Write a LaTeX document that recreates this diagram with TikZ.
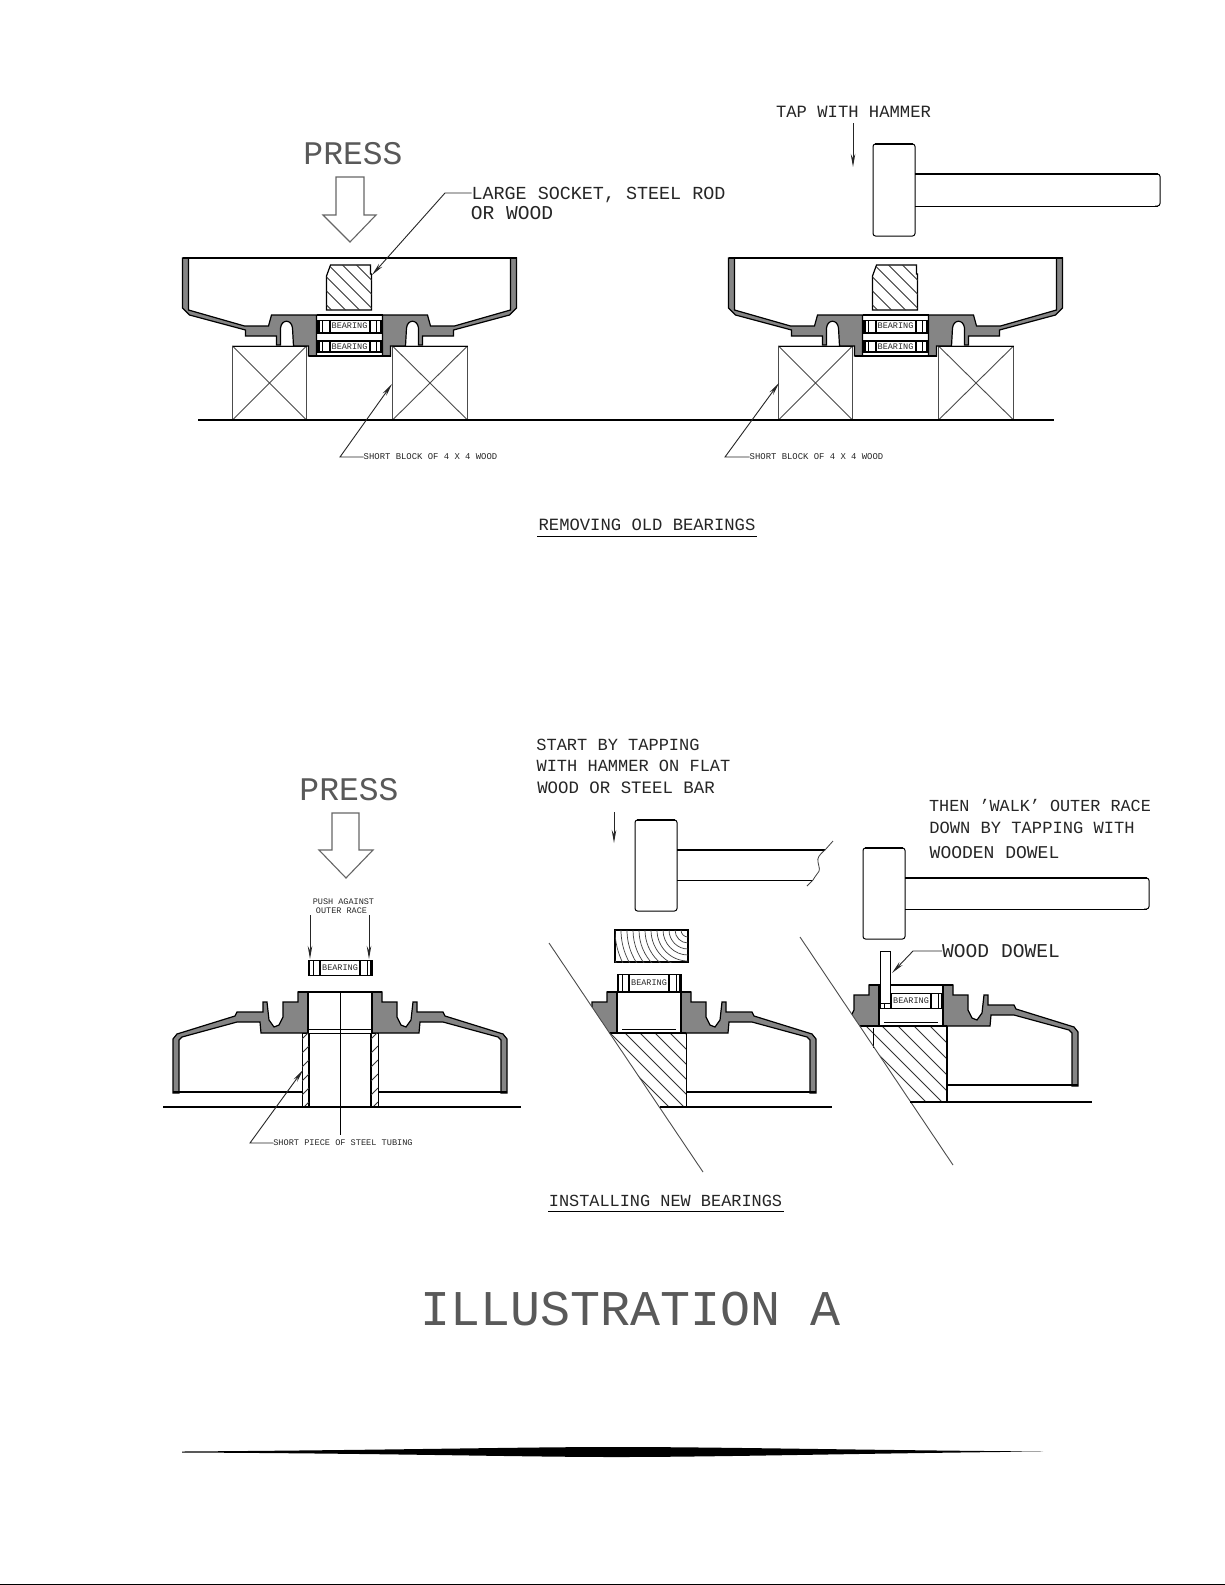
\documentclass[tikz,border=0pt]{standalone}
\usepackage{fontspec}
\setmainfont{Liberation Mono}
\usetikzlibrary{arrows.meta}
\tikzset{
  cadlabel/.style={inner sep=0pt,outer sep=0pt,text depth=0pt,text=black!85,anchor=center},
  biglabel/.style={cadlabel,text=black!65},
  part/.style={draw=black,line width=1pt},
  heavy/.style={draw=black,line width=1.5pt},
  light/.style={draw=black!70,line width=0.9pt},
  section/.style={draw=black,line width=1.2pt,fill=black!48},
  hatchline/.style={draw=black!80,line width=0.8pt},
  leader/.style={draw=black!80,line width=0.9pt},
  tipped/.style={draw=black!85,line width=0.9pt,-{Stealth[length=13pt,width=4.5pt]}},
  hollow/.style={draw=black!60,line width=1.1pt,fill=white,line join=miter}
}
\newcommand\cadtext[5]{\node[cadlabel,font=\fontsize{#4}{#4}\selectfont] (#1) at (#2,#3) {#5};}
\newcommand\bigtext[5]{\node[biglabel,font=\fontsize{#4}{#4}\selectfont] (#1) at (#2,#3) {#5};}
\newcommand\brg[4]{% name, cx, ytop, h
  \begin{scope}[shift={(#2,#3)}]
    \draw[part] (-32,0) rectangle (32,#4);
    \draw[draw=black,line width=2pt] (-31,0) -- (-31,#4) (-20,0) -- (-20,#4) (20,0) -- (20,#4) (31,0) -- (31,#4);
    \draw[part] (27,0) -- (27,#4) (-27,0) -- (-27,#4);
    \node[cadlabel,font=\fontsize{8.5}{8.5}\selectfont] (#1) at (0,#4/2) {BEARING};
  \end{scope}}
% half section, hub down (drum opening upward)
\def\upsection{(-167,0) -- (-161,0) -- (-161,52) -- (-105,68) -- (-81,68) -- (-78,57) -- (-33,57) -- (-33,98) -- (-41,98) -- (-41,88) -- (-56,88) -- (-57,70) .. controls (-58,61) and (-68,61) .. (-69,70) -- (-69,87) -- (-73,87) -- (-73,78) -- (-104,78) -- (-104,72) -- (-160,57) -- (-167,50) -- cycle}
% half section, hub up (drum opening downward)
\def\downsection{(-42,0) -- (-32,0) -- (-32,41) -- (-79,41) -- (-80,30) -- (-103,30) -- (-158,45) -- (-161,48) -- (-161,101) -- (-167,101) -- (-167,47) -- (-163,42) -- (-105,24) -- (-103,20) -- (-77,20) -- (-77,10) -- (-73,10) -- (-71,28) -- (-66,35) -- (-61,33) -- (-57,25) -- (-57,10) -- (-42,10) -- cycle}
\newcommand\drumup[3]{% name prefix, cx, y of rim
  \begin{scope}[shift={(#2,#3)}]
    \filldraw[section] \upsection;
    \begin{scope}[xscale=-1]\filldraw[section] \upsection;\end{scope}
    \draw[heavy] (-167,0) -- (167,0);
    \draw[draw=black,line width=1.5pt] (-33,57) -- (33,57) (-33,57) -- (-33,98) (33,57) -- (33,98) (-41,98) -- (41,98);
    \draw[part] (-33,75) -- (33,75) (-33,82) -- (33,82) (-33,93) -- (33,93);
    \draw[draw=black,line width=1.2pt,fill=white] (-19,7) -- (21,7) -- (21,16) -- (22,16) -- (22,52) -- (-23,52) -- (-23,18) -- cycle;
    \begin{scope}
      \clip (-19,7) -- (21,7) -- (21,16) -- (22,16) -- (22,52) -- (-23,52) -- (-23,18) -- cycle;
      \foreach \k in {-70,-56,...,30} {\draw[hatchline] (\k,0) -- (\k+60,60);}
    \end{scope}
  \end{scope}
  \brg{#1a}{#2}{#3+62}{12}
  \brg{#1b}{#2}{#3+83}{11}}
\newcommand\blockpair[1]{%
  \begin{scope}[shift={(#1,346)}]
    \draw[light] (-117,0) rectangle (-43,74) (-117,0) -- (-43,74) (-117,74) -- (-43,0);
    \draw[light] (43,0) rectangle (118,74) (43,0) -- (118,74) (43,74) -- (118,0);
    \draw[part] (-117,0) -- (-43,0) (43,0) -- (118,0);
  \end{scope}}
\newcommand\hammer[7]{% head x0,x1,y0,y1, handle y0,y1, handle end
  \draw[part,rounded corners=2.5pt,fill=white] (#1,#3) rectangle (#2,#4);
  \draw[heavy] (#1+2,#3) -- (#2-2,#3);
  \draw[heavy] (#2,#5) -- (#7,#5);
  \draw[part] (#2,#6) -- (#7,#6);}
\begin{document}
\begin{tikzpicture}[x=1pt,y=-1pt]
\useasboundingbox (0,0) rectangle (1225,1585);
\fill[white] (0,0) rectangle (1225,1585);
\draw[draw=black,line width=1.2pt] (0,1584.4) -- (1225,1584.4);
%% ---------- removing ----------
\blockpair{349.5}
\blockpair{895.5}
\drumup{ra}{349.5}{258}
\drumup{rb}{895.5}{258}
\draw[heavy] (198,420) -- (1054,420);
% press arrow
\bigtext{pressa}{353}{153.5}{33}{PRESS}
\draw[hollow] (336,177) -- (364,177) -- (364,215) -- (376,215) -- (350,242) -- (323,215) -- (336,215) -- cycle;
% socket leader
\cadtext{socket}{598.5}{193}{18.4}{LARGE SOCKET, STEEL ROD}
\cadtext{socketb}{512}{213}{19.6}{OR WOOD}
\coordinate (socketelbow) at (445,193);
\coordinate (sockettip) at (372,275);
\draw[tipped] (socket.west) -- (socketelbow) -- (sockettip);
% block leaders
\cadtext{blocka}{430.5}{457}{8.9}{SHORT BLOCK OF 4 X 4 WOOD}
\coordinate (blockaelbow) at (340,457);
\coordinate (blockatip) at (392,384);
\draw[tipped] (blocka.west) -- (blockaelbow) -- (blockatip);
\cadtext{blockb}{816.5}{457}{8.9}{SHORT BLOCK OF 4 X 4 WOOD}
\coordinate (blockbelbow) at (725,457);
\coordinate (blockbtip) at (779,383);
\draw[tipped] (blockb.west) -- (blockbelbow) -- (blockbtip);
% hammer 1
\cadtext{tap}{853.5}{111.5}{17.2}{TAP WITH HAMMER}
\coordinate (tapstart) at (853,123);
\coordinate (taptip) at (853,167);
\draw[tipped] (tapstart) -- (taptip);
\hammer{873}{915}{144}{236}{174}{206}{1158}
\draw[part,rounded corners=2.5pt] (1155,174) -- (1160,174) -- (1160,206) -- (1155,206);
% caption
\cadtext{remove}{647}{524.5}{17.2}{REMOVING OLD BEARINGS}
\coordinate (removeul) at (537,536);
\coordinate (removeur) at (757,536);
\draw[part] (removeul) -- (removeur);
%% ---------- installing, press ----------
\bigtext{pressb}{349}{789}{33}{PRESS}
\draw[hollow] (332,813) -- (359,813) -- (359,850) -- (373,850) -- (346,878) -- (319,850) -- (332,850) -- cycle;
\cadtext{pusha}{343.5}{902}{8.5}{PUSH AGAINST}
\cadtext{pushb}{341.5}{911}{8.5}{OUTER RACE}
\brg{brgc}{340}{960}{15}
\coordinate (pushlstart) at (310,915);
\coordinate (pushltip) at (310,959);
\coordinate (pushrstart) at (369,915);
\coordinate (pushrtip) at (369,959);
\draw[tipped] (pushlstart) -- (pushltip);
\draw[tipped] (pushrstart) -- (pushrtip);
\begin{scope}[shift={(340,992)}]
  \filldraw[section] \downsection;
  \begin{scope}[xscale=-1]\filldraw[section] \downsection;\end{scope}
  \draw[heavy] (-42,0) -- (42,0) (-32,0) -- (-32,41) (32,0) -- (32,41);
  \draw[part] (-32,37) -- (32,37) (-32,41) -- (32,41);
  \draw[heavy] (-167,100) -- (-38,100) (38,100) -- (167,100);
  % tube
  \draw[part,fill=white] (-38,41) rectangle (-31,115);
  \draw[part,fill=white] (31,41) rectangle (38,115);
  \draw[heavy] (-31,41) -- (-31,115) (31,41) -- (31,115);
  \begin{scope}
    \clip (-38,41) rectangle (-31,115);
    \foreach \k in {40,54,...,110} {\draw[hatchline] (-38,\k+7) -- (-31,\k);}
  \end{scope}
  \begin{scope}
    \clip (31,41) rectangle (38,115);
    \foreach \k in {40,54,...,110} {\draw[hatchline] (31,\k+7) -- (38,\k);}
  \end{scope}
  \draw[part] (0,0) -- (0,143);
\end{scope}
\draw[heavy] (163,1107) -- (521,1107);
\cadtext{tube}{343}{1143}{8.6}{SHORT PIECE OF STEEL TUBING}
\coordinate (tubeelbow) at (250,1143);
\coordinate (tubetip) at (303,1070);
\draw[tipped] (tube.west) -- (tubeelbow) -- (tubetip);
%% ---------- installing, middle ----------
\cadtext{starta}{618}{745}{17}{START BY TAPPING}
\cadtext{startb}{633.5}{766}{17}{WITH HAMMER ON FLAT}
\cadtext{startc}{626}{788}{17.4}{WOOD OR STEEL BAR}
\coordinate (startarrow) at (614,812);
\coordinate (starttip) at (614,843);
\draw[tipped] (startarrow) -- (starttip);
\hammer{635}{677}{820}{911}{850}{880}{813}
\draw[heavy] (813,850) -- (825,850);
\draw[draw=black!75,line width=0.8pt] (833,841) -- (825,850) .. controls (819,855) and (817,858) .. (818,862) .. controls (819,868) and (821,870) .. (817,874) .. controls (815,877) and (814,878) .. (813,880) -- (807,886);
% wood block
\draw[heavy] (615,930) rectangle (688,962);
\begin{scope}
  \clip (615,930) rectangle (688,962);
  \foreach \r in {7,13,...,80} {\draw[draw=black!75,line width=0.7pt] (688,930) circle [radius=\r];}
\end{scope}
\brg{brgd}{649}{974}{18}
\begin{scope}
  \clip (549,943) -- (703,1172) -- (850,1172) -- (850,943) -- cycle;
  \begin{scope}[shift={(649,992)}]
    \filldraw[section] \downsection;
    \begin{scope}[xscale=-1]\filldraw[section] \downsection;\end{scope}
    \draw[heavy] (-42,0) -- (42,0) (-32,0) -- (-32,41) (32,0) -- (32,41);
    \draw[part] (-27,37) -- (27,37) (-27,41) -- (27,41);
    \draw[heavy] (-42,41) -- (-32,41);
  \end{scope}
\end{scope}
\begin{scope}
  \clip (609.5,1033) -- (686,1033) -- (686,1107) -- (659.3,1107) -- cycle;
  \foreach \k in {520,535,...,685} {\draw[hatchline] (\k,1033) -- (\k+74,1107);}
\end{scope}
\draw[part] (686,1033) -- (686,1107);
\draw[heavy] (686,1092) -- (816,1092);
\draw[heavy] (609.5,1033) -- (686,1033);
\coordinate (cuta) at (549,943);
\coordinate (cutb) at (703,1172);
\draw[light] (cuta) -- (cutb);
\draw[heavy] (660,1107) -- (832,1107);
%% ---------- installing, right ----------
\cadtext{walka}{1040}{805.5}{16.8}{THEN 'WALK' OUTER RACE}
\cadtext{walkb}{1032}{828}{17.1}{DOWN BY TAPPING WITH}
\cadtext{walkc}{994.5}{852}{18}{WOODEN DOWEL}
\hammer{863}{905}{848}{939}{878}{909}{1147}
\draw[part,rounded corners=2.5pt] (1144,878) -- (1149,878) -- (1149,909) -- (1144,909);
\begin{scope}
  \clip (800,937) -- (953,1165) -- (1100,1165) -- (1100,937) -- cycle;
  \begin{scope}[shift={(911,985)}]
    \filldraw[section] \downsection;
    \begin{scope}[xscale=-1]\filldraw[section] \downsection;\end{scope}
    \draw[heavy] (-42,0) -- (42,0) (-32,0) -- (-32,41) (32,0) -- (32,41);
    \draw[part] (-27,37) -- (27,37) (-27,41) -- (27,41);
  \end{scope}
\end{scope}
\begin{scope}
  \clip (860.4,1026) -- (947,1026) -- (947,1102) -- (910.7,1102) -- cycle;
  \foreach \k in {770,786,...,946} {\draw[hatchline] (\k,1026) -- (\k+76,1102);}
\end{scope}
\brg{brge}{911}{993}{15}
\draw[part,fill=white] (880,951) rectangle (890,1003);
\draw[heavy] (947,1026) -- (947,1102);
\draw[heavy] (860.4,1026) -- (947,1026);
\draw[heavy] (947,1085) -- (1078,1085);
\draw[part] (873,1028) -- (873,1048);
\coordinate (cutc) at (800,937);
\coordinate (cutd) at (953,1165);
\draw[light] (cutc) -- (cutd);
\draw[heavy] (910,1102) -- (1092,1102);
\cadtext{dowel}{1001}{951}{19.6}{WOOD DOWEL}
\coordinate (dowelelbow) at (913,951);
\coordinate (doweltip) at (892,973);
\draw[tipped] (dowel.west) -- (dowelelbow) -- (doweltip);
% caption
\cadtext{install}{665.5}{1200.5}{16.9}{INSTALLING NEW BEARINGS}
\coordinate (installul) at (548,1211);
\coordinate (installur) at (784,1211);
\draw[part] (installul) -- (installur);
% title
\bigtext{title}{630.5}{1309}{50}{ILLUSTRATION A}
% rule
\fill[black] (182,1451.5) .. controls (400,1450) and (520,1447) .. (616,1447) .. controls (720,1447) and (850,1450) .. (1043,1451.5) .. controls (850,1453.5) and (720,1457) .. (616,1457) .. controls (520,1457) and (400,1453.5) .. (182,1452.5) -- cycle;
\end{tikzpicture}
\end{document}
